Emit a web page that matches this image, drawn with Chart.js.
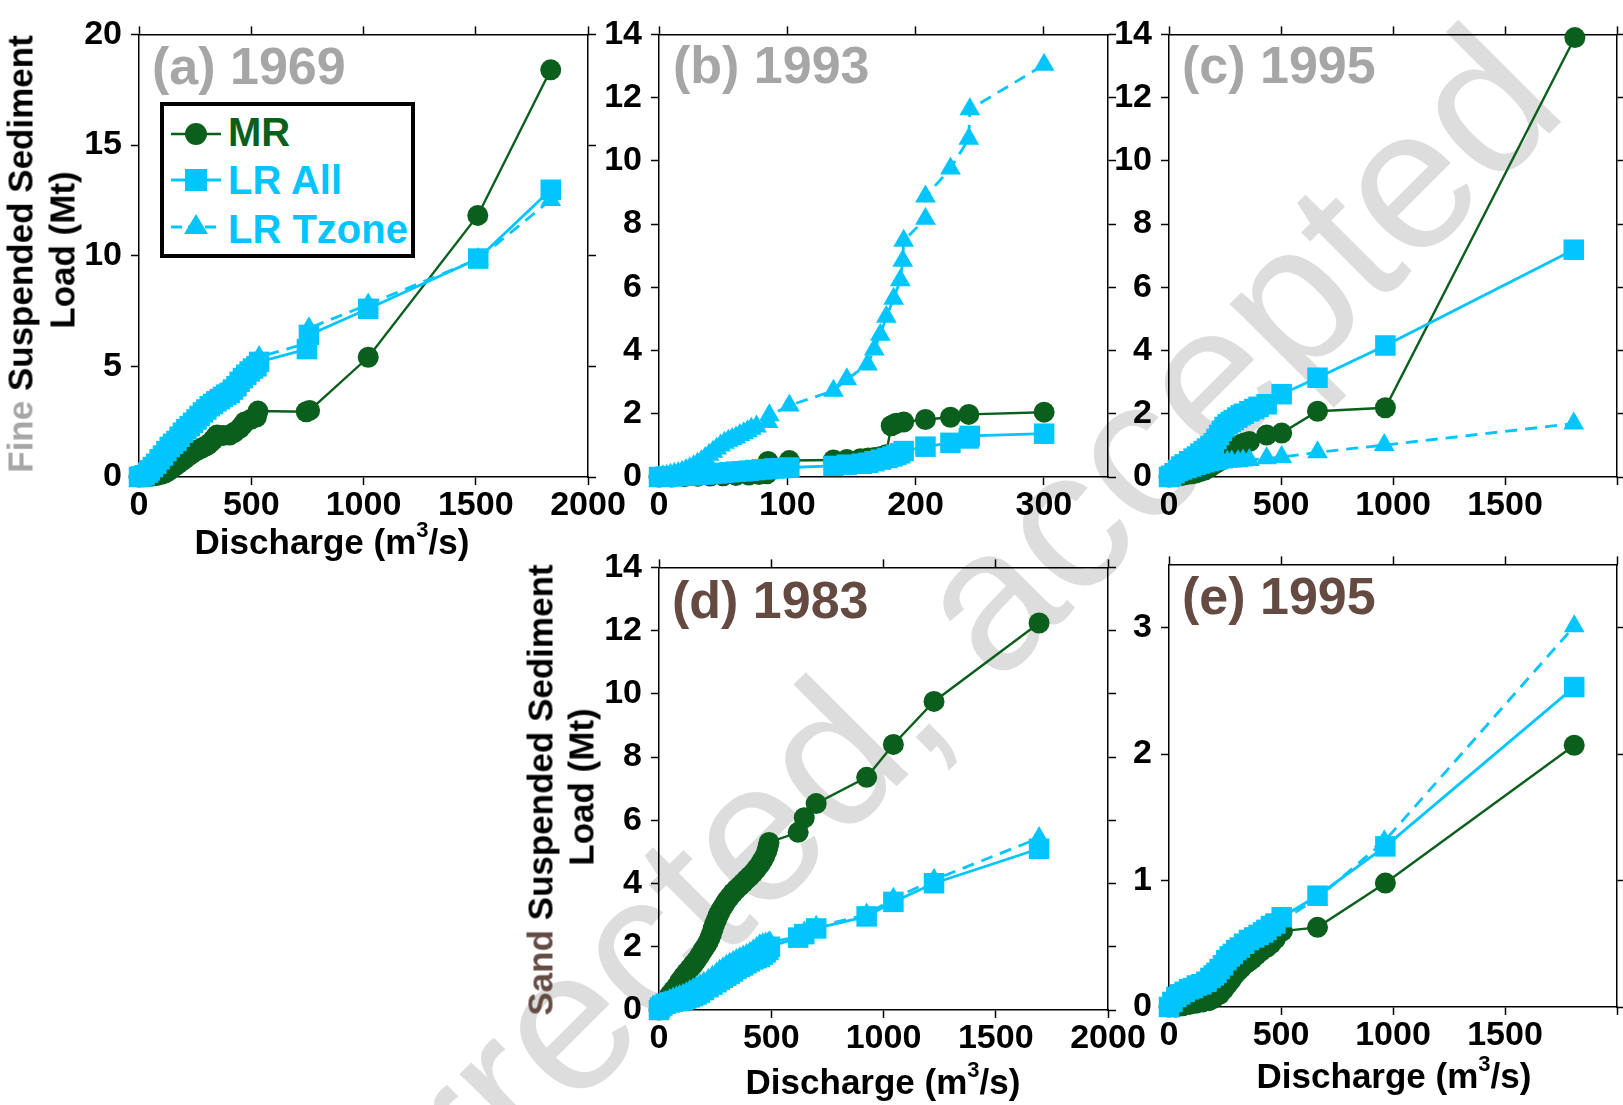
<!DOCTYPE html>
<html lang="en">
<head>
<meta charset="UTF-8">
<title>Fine and sand suspended sediment load vs discharge</title>
<style>
  body {
    margin: 0;
    width: 1623px;
    height: 1105px;
    overflow: hidden;
    position: relative;
    background: #fff;
    font-family: 'Liberation Sans', Arial, sans-serif;
  }
  canvas { position: absolute; z-index: 1; }
  .txt {
    position: absolute;
    white-space: nowrap;
    font-weight: bold;
    line-height: 1;
    z-index: 2;
  }
  .xt { font-size: 35px; transform: translateX(-50%); }
  .yt { font-size: 35px; transform: translate(-50%, -50%) rotate(-90deg); }
  .pl { font-size: 52px; }
  .sup { font-size: 22px; position: relative; top: -17px; }
  #watermark {
    position: absolute;
    left: 171px;
    top: 1343px;
    font-size: 200px;
    line-height: 1;
    color: #dddddd;
    white-space: nowrap;
    transform-origin: 0 169px;
    transform: rotate(-45deg);
    z-index: 0;
  }
  #legend { position: absolute; left: 160px; top: 102px; z-index: 2; }
</style>
</head>
<body>

<div id="watermark">uncorrected, accepted</div>

<canvas id="pa"></canvas>
<canvas id="pb"></canvas>
<canvas id="pc"></canvas>
<canvas id="pd"></canvas>
<canvas id="pe"></canvas>

<!-- panel labels -->
<div class="txt pl" style="left:152px; top:40px; color:#a6a6a6">(a) 1969</div>
<div class="txt pl" style="left:673px; top:39px; color:#a6a6a6">(b) 1993</div>
<div class="txt pl" style="left:1182px; top:39px; color:#a6a6a6">(c) 1995</div>
<div class="txt pl" style="left:672px; top:574px; color:#654a42">(d) 1983</div>
<div class="txt pl" style="left:1182px; top:570px; color:#654a42">(e) 1995</div>

<!-- axis titles -->
<div class="txt yt" style="left:20px; top:254px"><span style="color:#a6a6a6">Fine</span> Suspended Sediment</div>
<div class="txt yt" style="left:62px; top:250px">Load (Mt)</div>
<div class="txt yt" style="left:540px; top:790px"><span style="color:#654a42">Sand</span> Suspended Sediment</div>
<div class="txt yt" style="left:581px; top:787px">Load (Mt)</div>
<div class="txt xt" style="left:332px; top:524px">Discharge (m<span class="sup">3</span>/s)</div>
<div class="txt xt" style="left:883px; top:1064px">Discharge (m<span class="sup">3</span>/s)</div>
<div class="txt xt" style="left:1394px; top:1058px">Discharge (m<span class="sup">3</span>/s)</div>

<!-- legend of panel (a) -->
<svg id="legend" width="255" height="156" xmlns="http://www.w3.org/2000/svg">
  <rect x="2" y="2" width="251" height="152" fill="#fff" stroke="#000" stroke-width="4"/>
  <line x1="11" y1="32" x2="61" y2="32" stroke="#0a5f1d" stroke-width="2.5"/>
  <circle cx="36" cy="32" r="11" fill="#0a5f1d"/>
  <line x1="11" y1="78" x2="61" y2="78" stroke="#00c5ff" stroke-width="3"/>
  <rect x="25" y="67" width="22" height="22" fill="#00c5ff"/>
  <line x1="11" y1="125" x2="61" y2="125" stroke="#00c5ff" stroke-width="3" stroke-dasharray="11 6"/>
  <polygon points="36,112 48,132 24,132" fill="#00c5ff"/>
  <g font-family="Liberation Sans, Arial, sans-serif" font-weight="bold" font-size="40">
    <text x="68" y="44" fill="#0a5f1d">MR</text>
    <text x="68" y="92" fill="#00c5ff">LR All</text>
    <text x="68" y="141" fill="#00c5ff">LR Tzone</text>
  </g>
</svg>

<script src="https://cdn.jsdelivr.net/npm/chart.js"></script>
<script>
  // ---- data: [discharge (m3/s), cumulative load (Mt)] ----

  // (a) 1969, fine
  const mrA = [[0,0],[20,0.01],[40,0.02],[60,0.04],[80,0.07],[100,0.12],[115,0.18],[129,0.26],[144,0.37],[159,0.48],[174,0.6],[189,0.71],[204,0.82],[218,0.93],[233,1.04],[248,1.15],[263,1.23],[278,1.3],[293,1.38],[307,1.45],[318,1.55],[330,1.67],[340,1.8],[348,1.9],[375,1.88],[404,1.9],[425,2.02],[449,2.2],[460,2.33],[471,2.49],[497,2.6],[523,2.71],[530,2.98],[745,2.95],[760,3.01],[1021,5.41],[1509,11.82],[1834,18.4]];
  const allA = [[0,0],[10,0.03],[25,0.08],[40,0.2],[48,0.3],[62,0.45],[77,0.6],[92,0.8],[107,0.97],[122,1.17],[137,1.36],[152,1.5],[167,1.63],[181,1.82],[196,2.0],[211,2.16],[226,2.3],[241,2.45],[256,2.6],[270,2.76],[285,2.92],[300,3.05],[315,3.2],[330,3.3],[345,3.42],[360,3.52],[374,3.62],[389,3.72],[404,3.8],[419,3.95],[434,4.1],[448,4.3],[463,4.47],[478,4.62],[493,4.77],[508,4.9],[523,5.0],[535,5.2],[748,5.78],[757,6.42],[1021,7.6],[1511,9.87],[1834,12.98]];
  const tzA = [[0,0],[10,0.04],[25,0.1],[40,0.22],[48,0.33],[62,0.5],[77,0.66],[92,0.86],[107,1.04],[122,1.24],[137,1.42],[152,1.58],[167,1.72],[181,1.92],[196,2.1],[211,2.26],[226,2.42],[241,2.58],[256,2.74],[270,2.9],[285,3.06],[300,3.2],[315,3.36],[330,3.46],[345,3.6],[360,3.68],[374,3.78],[389,3.88],[404,3.96],[419,4.12],[434,4.28],[448,4.48],[463,4.64],[478,4.8],[493,4.95],[508,5.08],[523,5.2],[535,5.42],[748,6.05],[757,6.72],[1021,7.8],[1511,9.85],[1834,12.52]];

  // (b) 1993, fine
  const mrB = [[0,0],[10,0.0],[20,0.01],[30,0.02],[40,0.03],[50,0.04],[60,0.05],[70,0.06],[78,0.08],[84,0.1],[85,0.49],[101.6,0.52],[136,0.54],[146.4,0.55],[157,0.58],[163,0.6],[168,0.62],[173,0.65],[177,0.7],[181,1.62],[183,1.66],[185,1.7],[190.7,1.74],[207.7,1.82],[227.2,1.89],[241.5,1.98],[300.2,2.05]];
  const allB = [[0,0],[5,0.01],[10,0.02],[15,0.03],[20,0.04],[25,0.05],[30,0.07],[35,0.08],[40,0.1],[45,0.11],[50,0.13],[55,0.15],[60,0.17],[65,0.18],[70,0.2],[75,0.22],[80,0.24],[85,0.25],[90,0.27],[95,0.28],[101.6,0.3],[136,0.35],[146.4,0.39],[158,0.42],[163,0.45],[168,0.5],[173,0.55],[178,0.6],[182,0.65],[185,0.7],[188,0.75],[190.7,0.82],[207.7,0.96],[227.2,1.08],[241.5,1.22],[242.3,1.3],[300.2,1.37]];
  const tzB = [[0,0],[3,0.02],[6,0.04],[9,0.07],[12,0.1],[15,0.13],[18,0.17],[21,0.22],[24,0.28],[27,0.34],[30,0.42],[33,0.5],[36,0.6],[39,0.7],[42,0.8],[45,0.9],[48,1.0],[51,1.08],[54,1.15],[57,1.2],[60,1.25],[63,1.33],[66,1.38],[69,1.45],[72,1.53],[76,1.6],[85,1.74],[86,1.95],[101.6,2.26],[136,2.73],[146.4,3.09],[162.6,3.56],[167.8,4.03],[172.5,4.5],[177.2,5.07],[182.9,5.64],[188.1,6.22],[190,6.84],[190.7,7.47],[207.7,8.17],[207.7,8.87],[227.2,9.76],[241.5,10.7],[242.3,11.63],[300.2,13.04]];

  // (c) 1995, fine
  const mrC = [[0,0],[20,0.01],[40,0.03],[60,0.05],[80,0.08],[100,0.1],[120,0.13],[140,0.17],[160,0.22],[180,0.3],[196,0.38],[215,0.46],[234,0.54],[250,0.62],[265,0.7],[279,0.77],[292,0.86],[302,0.94],[310,1.0],[325,1.04],[340,1.08],[359,1.12],[436,1.33],[503,1.39],[663,2.08],[966,2.19],[1812,13.9]];
  const allC = [[0,0],[10,0.04],[25,0.12],[40,0.22],[55,0.33],[70,0.4],[90,0.5],[110,0.58],[125,0.65],[140,0.74],[155,0.82],[170,0.9],[185,0.98],[200,1.07],[212,1.2],[224,1.33],[236,1.46],[248,1.58],[262,1.67],[276,1.74],[289,1.8],[305,1.88],[320,1.95],[334,2.0],[359,2.08],[380,2.15],[400,2.22],[436,2.3],[503,2.62],[663,3.14],[966,4.16],[1807,7.19]];
  const tzC = [[0,0],[20,0.03],[40,0.06],[60,0.1],[80,0.15],[100,0.2],[120,0.25],[140,0.29],[160,0.33],[180,0.37],[200,0.4],[220,0.43],[240,0.46],[260,0.48],[280,0.49],[308,0.5],[330,0.52],[359,0.54],[436,0.59],[503,0.63],[663,0.78],[961,1.01],[1807,1.69]];

  // (d) 1983, sand
  const mrD = [[0,0],[10,0.05],[20,0.12],[30,0.22],[40,0.35],[48,0.48],[63,0.61],[78,0.74],[92,0.9],[107,1.05],[122,1.18],[137,1.31],[152,1.44],[167,1.57],[182,1.73],[196,1.89],[208,2.02],[219,2.15],[227,2.28],[234,2.41],[241,2.57],[248,2.72],[256,2.85],[263,2.98],[270,3.08],[278,3.19],[290,3.32],[301,3.45],[315,3.58],[330,3.71],[345,3.82],[360,3.92],[375,4.02],[390,4.13],[405,4.23],[419,4.33],[434,4.46],[449,4.6],[460,4.73],[471,4.86],[480,5.02],[486,5.17],[490,5.3],[620,5.62],[647,6.08],[700,6.53],[925,7.36],[1044,8.4],[1225,9.76],[1693,12.24]];
  const allD = [[0,0],[5,0.08],[15,0.14],[30,0.2],[48,0.24],[63,0.26],[78,0.28],[92,0.3],[107,0.32],[122,0.36],[137,0.4],[152,0.44],[167,0.49],[182,0.55],[200,0.63],[220,0.72],[238,0.8],[256,0.88],[270,0.95],[285,1.02],[300,1.08],[315,1.15],[330,1.22],[345,1.3],[360,1.36],[375,1.41],[390,1.48],[405,1.54],[420,1.6],[435,1.64],[449,1.68],[462,1.75],[475,1.82],[487,1.9],[494,2.0],[620,2.29],[647,2.4],[700,2.58],[925,2.96],[1044,3.42],[1225,4.01],[1693,5.1]];
  const tzD = [[0,0],[5,0.1],[15,0.18],[30,0.25],[48,0.32],[63,0.36],[78,0.4],[92,0.44],[107,0.48],[122,0.53],[137,0.6],[152,0.66],[167,0.72],[182,0.78],[200,0.86],[220,0.95],[238,1.05],[256,1.15],[270,1.24],[285,1.32],[300,1.4],[315,1.46],[330,1.52],[345,1.58],[360,1.64],[375,1.69],[390,1.74],[405,1.8],[420,1.88],[435,1.96],[449,2.05],[462,2.08],[475,2.1],[487,2.12],[494,2.14],[620,2.32],[647,2.45],[700,2.63],[925,3.02],[1044,3.52],[1225,4.12],[1693,5.44]];

  // (e) 1995, sand
  const mrE = [[0,0],[30,0.0],[60,0.01],[90,0.02],[120,0.03],[150,0.04],[180,0.05],[200,0.07],[226,0.1],[245,0.14],[262,0.18],[275,0.21],[286,0.24],[300,0.27],[312,0.29],[323,0.31],[340,0.34],[356,0.36],[372,0.38],[390,0.41],[410,0.44],[435,0.47],[455,0.5],[475,0.54],[506,0.6],[663,0.63],[966,0.98],[1809,2.07]];
  const allE = [[0,0],[15,0.04],[33,0.08],[50,0.1],[70,0.12],[90,0.14],[107,0.15],[125,0.17],[145,0.18],[167,0.2],[185,0.23],[200,0.25],[212,0.27],[226,0.3],[241,0.33],[256,0.37],[271,0.4],[285,0.42],[300,0.45],[316,0.47],[335,0.5],[357,0.53],[380,0.55],[400,0.57],[420,0.59],[435,0.61],[455,0.64],[475,0.66],[503,0.71],[663,0.88],[966,1.27],[1809,2.53]];
  const tzE = [[0,0],[15,0.03],[33,0.07],[50,0.09],[70,0.11],[90,0.12],[107,0.14],[125,0.15],[145,0.17],[167,0.19],[185,0.21],[200,0.23],[212,0.25],[226,0.28],[241,0.31],[256,0.35],[271,0.38],[285,0.4],[300,0.43],[316,0.45],[335,0.48],[357,0.51],[380,0.53],[400,0.55],[420,0.57],[435,0.59],[455,0.62],[475,0.64],[503,0.68],[663,0.86],[961,1.31],[1809,3.01]];

  // ---- ticks ----
  const qTicks = [0, 500, 1000, 1500, 2000];
  const qLabels = ['0', '500', '1000', '1500', '2000'];
  const qLabelsCut = ['0', '500', '1000', '1500', ''];
  const qTicksB = [0, 100, 200, 300];
  const qLabelsB = ['0', '100', '200', '300'];
  const loadTicks20 = [0, 5, 10, 15, 20];
  const loadTicks14 = [0, 2, 4, 6, 8, 10, 12, 14];
  const loadTicks3 = [0, 1, 2, 3];

  const GREEN = '#0a5f1d';
  const CYAN = '#00c5ff';
  const FONT = "'Liberation Sans', Arial, sans-serif";
  const M = { l: 100, r: 48, t: 24, b: 60 };   // room round each plot box

  function axis(pos, min, max, ticks, labels) {
    const vertical = pos === 'left' || pos === 'right';
    return {
      type: 'linear',
      position: pos,
      min: min,
      max: max,
      afterBuildTicks: s => { s.ticks = ticks.map(v => ({ value: v })); },
      afterFit: s => {
        if (vertical) s.width = pos === 'left' ? M.l : M.r;
        else s.height = pos === 'top' ? M.t : M.b;
      },
      ticks: {
        display: !!labels,
        autoSkip: false,
        maxRotation: 0,
        minRotation: 0,
        padding: vertical ? 9 : 0,
        color: '#000',
        font: { family: FONT, size: 34, weight: 'bold', lineHeight: 1.2 },
        callback: (v, i) => labels ? labels[i] : ''
      },
      grid: { drawOnChartArea: false, drawTicks: true, tickLength: 8, tickWidth: 1.5, tickColor: '#000' },
      border: { display: true, color: '#000', width: 1.5 }
    };
  }

  function series(pts, kind) {
    const d = { data: pts.map(p => ({ x: p[0], y: p[1] })), showLine: true, clip: false, pointBorderWidth: 0 };
    if (kind === 'mr') {
      return Object.assign(d, { label: 'MR', borderColor: GREEN, backgroundColor: GREEN, borderWidth: 2.4,
        pointStyle: 'circle', pointRadius: 10.5, order: 3 });
    }
    if (kind === 'all') {
      return Object.assign(d, { label: 'LR All', borderColor: CYAN, backgroundColor: CYAN, borderWidth: 2.8,
        pointStyle: 'rect', pointRadius: 14.5, order: 1 });
    }
    return Object.assign(d, { label: 'LR Tzone', borderColor: CYAN, backgroundColor: CYAN, borderWidth: 2.8,
      borderDash: [12, 8], pointStyle: 'triangle', pointRadius: 12, order: 2 });
  }

  function panel(id, box, xMax, xTicks, xLabels, yMax, yTicks, mr, all, tz) {
    const cv = document.getElementById(id);
    const w = box[2] - box[0] + M.l + M.r;
    const h = box[3] - box[1] + M.t + M.b;
    cv.width = w; cv.height = h;
    cv.style.width = w + 'px'; cv.style.height = h + 'px';
    cv.style.left = (box[0] - M.l) + 'px';
    cv.style.top = (box[1] - M.t) + 'px';

    new Chart(cv.getContext('2d'), {
      type: 'scatter',
      data: { datasets: [series(all, 'all'), series(tz, 'tz'), series(mr, 'mr')] },
      options: {
        responsive: false,
        animation: false,
        devicePixelRatio: 1,
        layout: { padding: 0 },
        plugins: { legend: { display: false }, tooltip: { enabled: false } },
        scales: {
          x: axis('bottom', 0, xMax, xTicks, xLabels),
          x2: axis('top', 0, xMax, xTicks, null),
          y: axis('left', 0, yMax, yTicks, yTicks.map(String)),
          y2: axis('right', 0, yMax, yTicks, null)
        }
      }
    });
  }

  // plot boxes [left, top, right, bottom] in page pixels
  panel('pa', [139, 29, 588, 477], 2000, qTicks, qLabels, 20, loadTicks20, mrA, allA, tzA);
  panel('pb', [659, 29, 1108, 477], 350, qTicksB, qLabelsB, 14, loadTicks14, mrB, allB, tzB);
  panel('pc', [1169, 29, 1617, 477], 2000, qTicks, qLabelsCut, 14, loadTicks14, mrC, allC, tzC);
  panel('pd', [659, 562, 1108, 1010], 2000, qTicks, qLabels, 14, loadTicks14, mrD, allD, tzD);
  panel('pe', [1169, 559, 1617, 1007], 2000, qTicks, qLabelsCut, 3.5, loadTicks3, mrE, allE, tzE);
</script>
</body>
</html>
